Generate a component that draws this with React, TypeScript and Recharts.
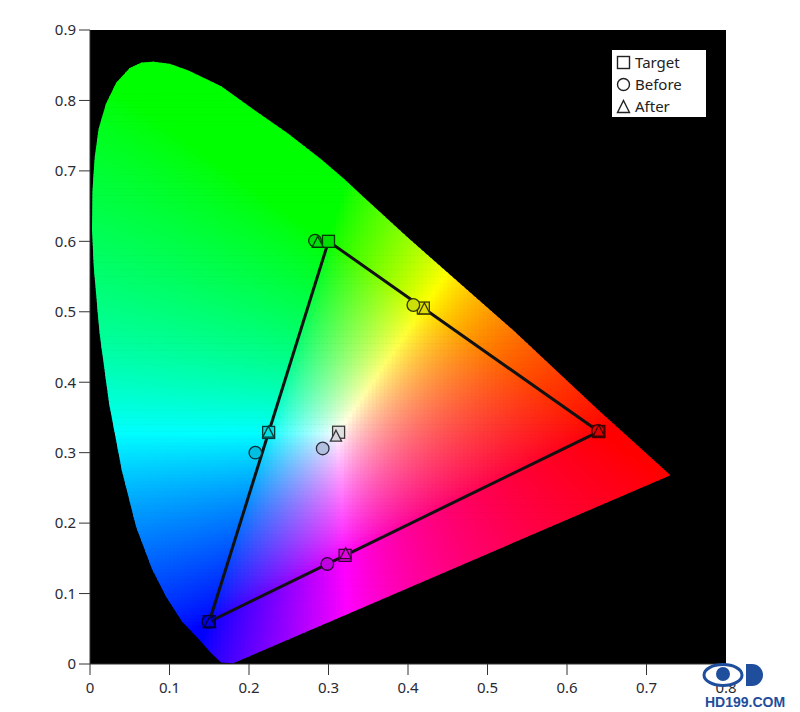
import React from 'react';
import { ScatterChart, Scatter, XAxis, YAxis, CartesianGrid, Legend } from 'recharts';

// Spectral locus outline, from violet end round to red tip
const locusX = [0.180, 0.165, 0.152, 0.138, 0.116, 0.096, 0.078, 0.058, 0.040, 0.024, 0.012, 0.005, 0.0025, 0.003, 0.006, 0.011, 0.020, 0.033, 0.050, 0.065, 0.080, 0.100, 0.123, 0.165, 0.207, 0.249, 0.291, 0.320, 0.345, 0.400, 0.532, 0.640, 0.730];
const locusY = [0.001, 0.002, 0.016, 0.034, 0.060, 0.095, 0.135, 0.195, 0.275, 0.370, 0.470, 0.560, 0.616, 0.670, 0.720, 0.760, 0.795, 0.825, 0.846, 0.854, 0.855, 0.852, 0.843, 0.820, 0.786, 0.753, 0.716, 0.688, 0.662, 0.605, 0.474, 0.360, 0.268];

// Target / Before / After  (R, G, B, C, Y, M, W)
const targetX = [0.640, 0.300, 0.150, 0.2247, 0.4193, 0.3209, 0.3127];
const targetY = [0.330, 0.600, 0.060, 0.3287, 0.5053, 0.1542, 0.3290];
const beforeX = [0.639, 0.283, 0.149, 0.208, 0.4067, 0.2985, 0.2927];
const beforeY = [0.331, 0.601, 0.060, 0.300, 0.5096, 0.142, 0.306];
const afterX = [0.640, 0.2865, 0.151, 0.2243, 0.4206, 0.3216, 0.3094];
const afterY = [0.330, 0.598, 0.059, 0.3284, 0.5035, 0.156, 0.3227];

// Target gamut triangle (R -> G -> B -> R)
const gamutX = [0.64, 0.30, 0.15, 0.64];
const gamutY = [0.33, 0.60, 0.06, 0.33];

const xTicks = [0, 0.1, 0.2, 0.3, 0.4, 0.5, 0.6, 0.7, 0.8];
const yTicks = [0, 0.1, 0.2, 0.3, 0.4, 0.5, 0.6, 0.7, 0.8, 0.9];

const legendNames = ['Target', 'Before', 'After'];
const legendShapes = ['square', 'circle', 'triangle'];

const zip = (xs: number[], ys: number[]) => xs.map((x, i) => ({ x, y: ys[i] }));
const locusData = zip(locusX, locusY);
const targetData = zip(targetX, targetY);
const beforeData = zip(beforeX, beforeY);
const afterData = zip(afterX, afterY);
const gamutData = zip(gamutX, gamutY);

// chromaticity -> display colour (background texture)
function xyToRgb(x: number, y: number): [number, number, number] {
  const yy = Math.max(y, 1e-4);
  const X = x / yy, Y = 1, Z = (1 - x - yy) / yy;
  let r = 3.2406 * X - 1.5372 * Y - 0.4986 * Z;
  let g = -0.9689 * X + 1.8758 * Y + 0.0415 * Z;
  let b = 0.0557 * X - 0.204 * Y + 1.057 * Z;
  r = Math.max(r, 0); g = Math.max(g, 0); b = Math.max(b, 0);
  const m = Math.max(r, g, b, 1e-9);
  const enc = (c: number) => Math.pow(c / m, 1 / 1.3);
  return [enc(r), enc(g), enc(b)];
}
const css = (c: [number, number, number], k = 1) =>
  `rgb(${Math.round(c[0] * 255 * k)},${Math.round(c[1] * 255 * k)},${Math.round(c[2] * 255 * k)})`;

function inside(px: number, py: number) {
  let c = false;
  const n = locusX.length;
  for (let i = 0, j = n - 1; i < n; j = i++) {
    const xi = locusX[i], yi = locusY[i], xj = locusX[j], yj = locusY[j];
    if ((yi > py) !== (yj > py) && px < ((xj - xi) * (py - yi)) / (yj - yi) + xi) c = !c;
  }
  return c;
}

// background raster cells (texture of the diagram)
const STEP = 0.005;
const rasterCells: { x: number; y: number; c: string; edge: boolean }[] = [];
for (let i = 0; i * STEP < 0.75; i++) {
  for (let j = 0; j * STEP < 0.87; j++) {
    const cx = (i + 0.5) * STEP, cy = (j + 0.5) * STEP;
    const h = STEP * 0.6;
    const corners = [inside(cx - h, cy - h), inside(cx + h, cy - h), inside(cx - h, cy + h), inside(cx + h, cy + h), inside(cx, cy)];
    const n = corners.filter(Boolean).length;
    if (n === 0) continue;
    rasterCells.push({ x: cx, y: cy, c: css(xyToRgb(cx, cy)), edge: n < 5 });
  }
}

const CellShape = (p: any) => (
  <rect
    x={p.cx - 2.4}
    y={p.cy - 2.1}
    width={4.8}
    height={4.2}
    fill={p.payload.c}
    clipPath={p.payload.edge ? 'url(#locusClip)' : undefined}
  />
);

const ClipLine = (p: any) => (
  <defs>
    <clipPath id="locusClip">
      <polygon points={(p.points || []).map((q: any) => `${q.x},${q.y}`).join(' ')} />
    </clipPath>
  </defs>
);

const markerFill = (p: any) => css(xyToRgb(p.payload.x, p.payload.y), 0.88);
const markerStroke = (p: any) => css(xyToRgb(p.payload.x, p.payload.y), 0.22);

const SquareShape = (p: any) => (
  <rect x={p.cx - 6} y={p.cy - 6} width={12} height={12} fill={markerFill(p)} stroke={markerStroke(p)} strokeWidth={1.3} />
);
const CircleShape = (p: any) => (
  <circle cx={p.cx} cy={p.cy} r={6.3} fill={markerFill(p)} stroke={markerStroke(p)} strokeWidth={1.3} />
);
const TriangleShape = (p: any) => (
  <polygon
    points={`${p.cx},${p.cy - 6.5} ${p.cx + 5.6},${p.cy + 4.5} ${p.cx - 5.6},${p.cy + 4.5}`}
    fill={markerFill(p)}
    stroke={markerStroke(p)}
    strokeWidth={1.3}
  />
);

const LegendIcon = ({ kind }: { kind: string }) => (
  <svg width={15} height={15} style={{ display: 'block' }}>
    {kind === 'square' && <rect x={1.5} y={1.5} width={12} height={12} fill="none" stroke="#222" strokeWidth={1.4} />}
    {kind === 'circle' && <circle cx={7.5} cy={7.5} r={6} fill="none" stroke="#222" strokeWidth={1.4} />}
    {kind === 'triangle' && <polygon points="7.5,1.5 13.5,13.5 1.5,13.5" fill="none" stroke="#222" strokeWidth={1.4} />}
  </svg>
);

const LegendBox = () => (
  <div style={{ background: '#fff', width: 94, height: 67, boxSizing: 'border-box', padding: '1px 0 0 4px' }}>
    {legendNames.map((n, i) => (
      <div key={n} style={{ display: 'flex', alignItems: 'center', height: 22.3 }}>
        <LegendIcon kind={legendShapes[i]} />
        <span style={{ marginLeft: 4, fontFamily: '"Noto Sans", sans-serif', fontSize: 15, color: '#222', lineHeight: '15px' }}>{n}</span>
      </div>
    ))}
  </div>
);

const fmt = (v: number) => (v === 0 ? '0' : String(v));
const tickStyle = { fontFamily: '"Noto Sans", sans-serif', fontSize: 15, fill: '#2a2a33' };

const Watermark = () => (
  <div style={{ position: 'absolute', left: 690, top: 660, width: 110, height: 52 }}>
    <svg width={110} height={52}>
      <ellipse cx={33} cy={15} rx={19} ry={10.5} fill="#fff" stroke="#1f4e9c" strokeWidth={3} />
      <circle cx={33} cy={14} r={7} fill="#1f4e9c" />
      <path d="M56,4 h6 a11,11 0 0 1 0,22 h-6 z" fill="#1f4e9c" />
      <text x={15} y={47} fontFamily='"Liberation Sans", Arial, sans-serif' fontWeight={700} fontSize={14} fill="#1f4e9c">HD199.COM</text>
    </svg>
  </div>
);

export default function App() {
  return (
    <div style={{ position: 'absolute', left: 0, top: 0, width: 800, height: 712, background: '#fff' }}>
      <ScatterChart width={800} height={712} margin={{ top: 30, right: 74, bottom: 18, left: 40 }}>
        <CartesianGrid fill="#000" stroke="none" horizontal={false} vertical={false} />
        <XAxis
          type="number"
          dataKey="x"
          domain={[0, 0.8]}
          ticks={xTicks}
          allowDataOverflow
          height={30}
          tickFormatter={fmt}
          stroke="#333"
          tickSize={11}
          tickMargin={7}
          tick={tickStyle}
        />
        <YAxis
          type="number"
          dataKey="y"
          domain={[0, 0.9]}
          ticks={yTicks}
          allowDataOverflow
          width={50}
          tickFormatter={fmt}
          stroke="#333"
          tickSize={11}
          tickMargin={3}
          tick={tickStyle}
        />
        <Scatter name="raster" data={rasterCells} shape={CellShape} isAnimationActive={false} legendType="none" />
        <Scatter name="locus" data={locusData} shape={() => <g />} line={ClipLine} isAnimationActive={false} legendType="none" />
        <Scatter
          name="gamut"
          data={gamutData}
          shape={() => <g />}
          line={{ stroke: '#111', strokeWidth: 3 }}
          lineType="joint"
          isAnimationActive={false}
          legendType="none"
        />
        <Scatter name="Target" data={targetData} shape={SquareShape} isAnimationActive={false} />
        <Scatter name="Before" data={beforeData} shape={CircleShape} isAnimationActive={false} />
        <Scatter name="After" data={afterData} shape={TriangleShape} isAnimationActive={false} />
        <Legend
          layout="horizontal"
          align="center"
          verticalAlign="middle"
          wrapperStyle={{ position: 'absolute', left: 612, top: 50, width: 94, height: 67 }}
          content={() => <LegendBox />}
        />
      </ScatterChart>
      <Watermark />
    </div>
  );
}
